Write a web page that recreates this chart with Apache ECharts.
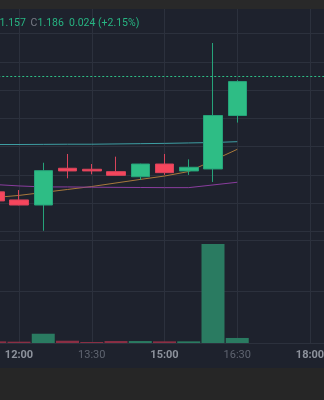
<!DOCTYPE html>
<html>
<head>
<meta charset="utf-8">
<script src="https://cdn.jsdelivr.net/npm/echarts@6/dist/echarts.min.js"></script>
<style>
html,body{margin:0;padding:0;background:#1e222d;}
#c{width:324px;height:400px;}
</style>
</head>
<body>
<div id="c"></div>
<script>
// ---- data ----
const times = ['11:30','12:00','12:30','13:00','13:30','14:00','14:30','15:00','15:30','16:00','16:30'];
const opens  = [1.1080,1.1023,1.0987,1.1247,1.1240,1.1223,1.1187,1.1277,1.1228,1.1242,1.1620];
const closes = [1.1016,1.0987,1.1230,1.1228,1.1228,1.1197,1.1277,1.1216,1.1254,1.1620,1.1860];
const lows   = [1.1000,1.0985,1.0805,1.1176,1.1204,1.1195,1.1164,1.1200,1.1200,1.1150,1.1570];
const highs  = [1.1090,1.1093,1.1286,1.1348,1.1277,1.1329,1.1279,1.1348,1.1310,1.2133,1.1870];
const volumes = [16000,13000,90000,22000,10000,19000,19000,16000,16000,961000,49000];
const maTeal   = [1.1415,1.1415,1.1416,1.1417,1.1417,1.1419,1.1421,1.1423,1.1426,1.1429,1.1435];
const maOrange = [1.1040,1.1055,1.1076,1.1097,1.1118,1.1143,1.1168,1.1192,1.1224,1.1302,1.1381];
const maPurple = [1.1132,1.1122,1.1115,1.1115,1.1113,1.1112,1.1111,1.1110,1.1110,1.1129,1.1148];
const majorTicks = ['12:00','15:00','18:00'];
const lastPrice = 1.186;
const header = {low:'1.157', close:'1.186', change:'0.024 (+2.15%)'};

// ---- build ----
const toMin = t => { const [h,m] = t.split(':').map(Number); return h*60+m; };
const fmt = v => { const h = Math.floor(v/60), m = v%60; return String(h).padStart(2,'0')+':'+String(m).padStart(2,'0'); };
const xs = times.map(toMin);
const candleData = xs.map((x,i)=>[x, opens[i], closes[i], lows[i], highs[i]]);
const UP='#2ebd85', DOWN='#f6465d';
const volData = xs.map((x,i)=>({value:[x, volumes[i]], itemStyle:{color: closes[i]>=opens[i] ? '#2a7b61' : '#8b2f44'}}));
const line = (arr,color)=>({type:'line', xAxisIndex:0, yAxisIndex:0, data: xs.map((x,i)=>[x,arr[i]]), showSymbol:false, symbol:'none', lineStyle:{width:1,color:color}, z:1});

const GRID='#2c313d';
const FONT="Roboto, 'Noto Sans', sans-serif";
const xCommon = {
  type:'value', min:630, max:1170, interval:90,
  splitLine:{show:true, lineStyle:{color:GRID,width:1}},
  axisTick:{show:false}
};

const chart = echarts.init(document.getElementById('c'), null, {renderer:'canvas'});
chart.setOption({
  backgroundColor:'#1e222d',
  animation:false,
  grid:[
    {left:-53.75, right:-58.75, top:5.24, height:254.5, outerBoundsMode:'none', containLabel:false},
    {left:-53.75, right:-58.75, top:240, height:103, outerBoundsMode:'none', containLabel:false}
  ],
  xAxis:[
    Object.assign({gridIndex:0, axisLine:{show:false}, axisLabel:{show:false}}, xCommon),
    Object.assign({gridIndex:1, axisLine:{show:true, lineStyle:{color:GRID}},
      axisLabel:{show:true, margin:7, fontFamily:FONT, fontSize:11, hideOverlap:false,
        formatter: v => { const s = fmt(v); return majorTicks.includes(s) ? '{b|'+s+'}' : '{n|'+s+'}'; },
        rich:{ b:{color:'#8d929c', fontWeight:'bold', fontSize:11, fontFamily:FONT}, n:{color:'#5f6470', fontSize:11, fontFamily:FONT} }
      }}, xCommon)
  ],
  yAxis:[
    {type:'value', gridIndex:0, min:1.06, max:1.24, interval:0.02, axisLine:{show:false}, axisTick:{show:false}, axisLabel:{show:false},
     splitLine:{show:true, showMinLine:false, lineStyle:{color:GRID,width:1}}},
    {type:'value', gridIndex:1, min:0, max:1000000, interval:500000, axisLine:{show:false}, axisTick:{show:false}, axisLabel:{show:false},
     splitLine:{show:true, lineStyle:{color:GRID,width:1}}}
  ],
  series:[
    line(maTeal,'#3e9ea3'),
    line(maOrange,'#a8793c'),
    line(maPurple,'#8a3d9e'),
    {type:'candlestick', xAxisIndex:0, yAxisIndex:0, data:candleData, barWidth:19,
     encode:{x:0, y:[1,2,3,4]},
     itemStyle:{color:UP, color0:DOWN, borderColor:'#26a37a', borderColor0:'#d9445b', borderWidth:1},
     markLine:{silent:true, symbol:'none', label:{show:false},
       lineStyle:{color:UP, type:[2,2], width:1}, data:[{yAxis:lastPrice}]}, z:3},
    {type:'bar', xAxisIndex:1, yAxisIndex:1, data:volData, barWidth:23}
  ],
  graphic:[
    {type:'rect', shape:{x:0,y:0,width:324,height:9}, style:{fill:'#292929'}, z:100},
    {type:'rect', shape:{x:0,y:368,width:324,height:32}, style:{fill:'#262626'}, z:100},
    {type:'text', x:-7, y:23, style:{text:'L', fill:'#787b86', font:'10.5px '+FONT, textVerticalAlign:'middle'}, z:100},
    {type:'text', x:-0.5, y:23, style:{text:header.low, fill:'#27b482', font:'10.5px '+FONT, textVerticalAlign:'middle'}, z:100},
    {type:'text', x:30.5, y:23, style:{text:'C', fill:'#787b86', font:'10.5px '+FONT, textVerticalAlign:'middle'}, z:100},
    {type:'text', x:37.5, y:23, style:{text:header.close, fill:'#27b482', font:'10.5px '+FONT, textVerticalAlign:'middle'}, z:100},
    {type:'text', x:69, y:23, style:{text:header.change, fill:'#27b482', font:'10.5px '+FONT, textVerticalAlign:'middle'}, z:100}
  ]
});
</script>
</body>
</html>
